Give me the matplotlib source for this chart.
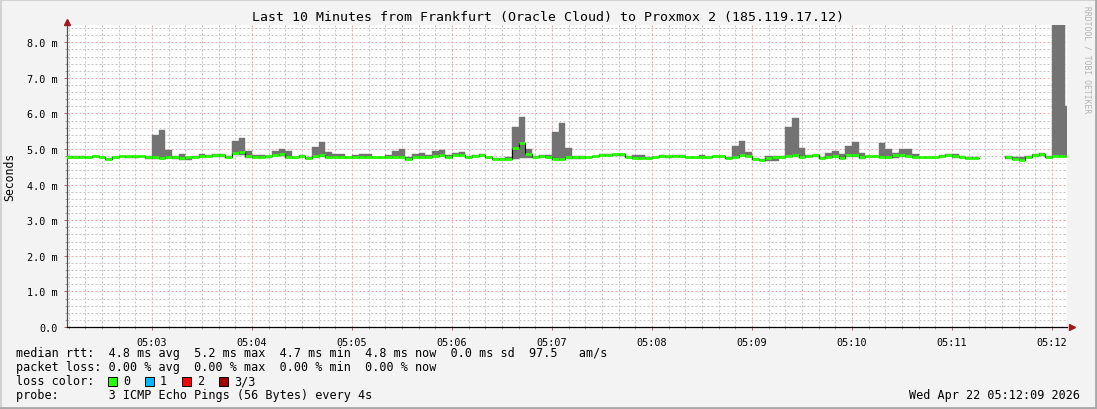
"""
Smokeping style latency graph (RRDtool look): last 10 minutes,
Frankfurt (Oracle Cloud) -> Proxmox 2.
"""

import matplotlib.pyplot as plt
import numpy as np
from matplotlib.lines import Line2D
from matplotlib.patches import Rectangle

# Data
# -----------------------------------------------------------------------------

# 4 s steps, start of first step = 05:02:08 (seconds after 05:00:00)
step_start = 128
step_len = 4

# median rtt per step [ms], NaN = no data
median = [
    4.78, 4.79, 4.79, 4.78, 4.80, 4.77, 4.73, 4.77, 4.80, 4.80,
    4.80, 4.80, 4.77, 4.77, 4.76, 4.78, 4.78, 4.75, 4.77, 4.79,
    4.81, 4.81, 4.83, 4.83, 4.78, 4.89, 4.91, 4.80, 4.78, 4.78,
    4.80, 4.84, 4.87, 4.78, 4.78, 4.80, 4.75, 4.80, 4.83, 4.77,
    4.77, 4.77, 4.77, 4.78, 4.78, 4.78, 4.77, 4.77, 4.77, 4.77,
    4.77, 4.73, 4.77, 4.77, 4.78, 4.80, 4.84, 4.77, 4.84, 4.84,
    4.78, 4.81, 4.84, 4.77, 4.73, 4.73, 4.73, 5.04, 5.16, 4.86,
    4.79, 4.81, 4.77, 4.72, 4.72, 4.77, 4.77, 4.77, 4.77, 4.80,
    4.84, 4.84, 4.86, 4.86, 4.77, 4.76, 4.76, 4.74, 4.77, 4.81,
    4.80, 4.80, 4.80, 4.77, 4.77, 4.78, 4.77, 4.80, 4.80, 4.74,
    4.78, 4.84, 4.80, 4.72, 4.68, 4.76, 4.77, 4.78, 4.80, 4.82,
    4.77, 4.80, 4.82, 4.74, 4.77, 4.80, 4.76, 4.83, 4.83, 4.77,
    4.80, 4.80, 4.77, 4.78, 4.84, 4.82, 4.81, 4.79, 4.78, 4.77,
    4.77, 4.81, 4.84, 4.81, 4.79, 4.75, 4.75, np.nan, np.nan, np.nan,
    np.nan, 4.77, 4.73, 4.70, 4.79, 4.82, 4.85, 4.77, 4.81, 4.81,
    4.81,
]

# smoke: lowest and highest ping per step [ms]
ping_lo = [
    4.76, 4.77, 4.77, 4.75, 4.78, 4.74, 4.71, 4.75, 4.78, 4.75,
    4.75, 4.78, 4.73, 4.73, 4.73, 4.75, 4.71, 4.69, 4.70, 4.77,
    4.78, 4.79, 4.77, 4.77, 4.76, 4.82, 4.83, 4.75, 4.75, 4.76,
    4.76, 4.81, 4.81, 4.74, 4.74, 4.78, 4.71, 4.76, 4.79, 4.75,
    4.75, 4.75, 4.75, 4.76, 4.76, 4.76, 4.75, 4.75, 4.75, 4.75,
    4.75, 4.70, 4.75, 4.75, 4.76, 4.77, 4.80, 4.75, 4.80, 4.80,
    4.74, 4.78, 4.80, 4.74, 4.71, 4.71, 4.71, 4.73, 4.75, 4.75,
    4.77, 4.77, 4.75, 4.69, 4.69, 4.71, 4.71, 4.71, 4.75, 4.78,
    4.81, 4.81, 4.81, 4.81, 4.75, 4.73, 4.73, 4.72, 4.75, 4.79,
    4.75, 4.78, 4.78, 4.75, 4.75, 4.76, 4.75, 4.78, 4.78, 4.72,
    4.75, 4.80, 4.77, 4.69, 4.66, 4.66, 4.66, 4.76, 4.77, 4.79,
    4.74, 4.78, 4.79, 4.71, 4.75, 4.77, 4.71, 4.79, 4.79, 4.71,
    4.78, 4.78, 4.75, 4.75, 4.74, 4.78, 4.78, 4.75, 4.74, 4.74,
    4.74, 4.79, 4.81, 4.75, 4.75, 4.72, 4.72, np.nan, np.nan, np.nan,
    np.nan, 4.73, 4.72, 4.68, 4.77, 4.79, 4.80, 4.75, 4.77, 4.77,
    4.77,
]

ping_hi = [
    4.81, 4.80, 4.80, 4.79, 4.81, 4.79, 4.76, 4.79, 4.81, 4.81,
    4.81, 4.81, 4.81, 5.39, 5.55, 4.97, 4.80, 4.85, 4.79, 4.81,
    4.85, 4.82, 4.85, 4.85, 4.80, 5.22, 5.32, 4.94, 4.84, 4.84,
    4.81, 4.94, 4.99, 4.94, 4.79, 4.82, 4.78, 5.06, 5.19, 4.91,
    4.86, 4.86, 4.79, 4.84, 4.87, 4.87, 4.79, 4.79, 4.82, 4.94,
    4.99, 4.78, 4.87, 4.90, 4.82, 4.94, 4.98, 4.84, 4.88, 4.91,
    4.80, 4.84, 4.87, 4.79, 4.75, 4.75, 4.78, 5.61, 5.89, 5.00,
    4.81, 4.82, 4.83, 5.49, 5.72, 5.04, 4.80, 4.80, 4.79, 4.81,
    4.85, 4.87, 4.87, 4.87, 4.80, 4.82, 4.82, 4.78, 4.79, 4.82,
    4.81, 4.84, 4.84, 4.79, 4.79, 4.82, 4.79, 4.81, 4.81, 4.78,
    5.10, 5.22, 4.92, 4.75, 4.72, 4.80, 4.81, 4.81, 5.61, 5.86,
    5.04, 4.83, 4.83, 4.77, 4.88, 4.94, 4.87, 5.10, 5.19, 4.88,
    4.81, 4.81, 5.16, 4.99, 4.88, 4.99, 5.01, 4.85, 4.79, 4.79,
    4.78, 4.83, 4.86, 4.86, 4.80, 4.79, 4.79, np.nan, np.nan, np.nan,
    np.nan, 4.81, 4.79, 4.79, 4.81, 4.87, 4.90, 4.81, 8.60, 8.60,
    6.22,
]

x_range = (129, 729)  # 05:02:09 .. 05:12:09
major_ticks = [180, 240, 300, 360, 420, 480, 540, 600, 660, 720]
major_labels = ['05:03', '05:04', '05:05', '05:06', '05:07',
                '05:08', '05:09', '05:10', '05:11', '05:12']
y_ticks = [0, 1, 2, 3, 4, 5, 6, 7, 8]
y_labels = ['0.0', '1.0 m', '2.0 m', '3.0 m', '4.0 m',
            '5.0 m', '6.0 m', '7.0 m', '8.0 m']

title = 'Last 10 Minutes from Frankfurt (Oracle Cloud) to Proxmox 2 (185.119.17.12)'
legend_rows = [
    'median rtt:  4.8 ms avg  5.2 ms max  4.7 ms min  4.8 ms now  0.0 ms sd  97.5   am/s',
    'packet loss: 0.00 % avg  0.00 % max  0.00 % min  0.00 % now',
    'loss color:',
    'probe:       3 ICMP Echo Pings (56 Bytes) every 4s',
]
loss_colors = ['#26ff00', '#00b8ff', '#ff0000', '#a00000']
loss_labels = ['0', '1', '2', '3/3']
stamp = 'Wed Apr 22 05:12:09 2026'

# Plot
# -----------------------------------------------------------------------------

W, H = 1097, 410
MONO = 'DejaVu Sans Mono'
BG = '#f3f3f3'


def fx(px):
    return px / W


def fy(py):
    return 1 - py / H


fig = plt.figure(figsize=(W / 100, H / 100), dpi=100, facecolor=BG)
ax = fig.add_axes([fx(67), fy(328), fx(1067) - fx(67), fy(26.25) - fy(328)])
ax.set_facecolor('white')
ax.set_xlim(*x_range)
ax.set_ylim(0, 8.48)

# grid: minor gray every 10 s / 0.2 ms, major red every minute / 1 ms
dots = (0, (2, 2))
for t in range(130, 730, 10):
    if t % 60:
        ax.axvline(t, color='#c4c4c4', lw=0.72, ls=dots, zorder=0.5)
for i in range(1, 43):
    v = i * 0.2
    if i % 5:
        ax.axhline(v, color='#c4c4c4', lw=0.72, ls=dots, zorder=0.5)
for t in major_ticks:
    ax.axvline(t, color='#f0a8a8', lw=0.72, ls=dots, zorder=0.6)
for v in y_ticks[1:]:
    ax.axhline(v, color='#f0a8a8', lw=0.72, ls=dots, zorder=0.6)

med = np.array(median)
lo = np.array(ping_lo)
hi = np.array(ping_hi)
edges = step_start + step_len * np.arange(len(med) + 1)

# smoke
ax.bar(edges[:-1], hi - lo, bottom=lo, width=step_len, align='edge',
       color='#737373', edgecolor='#737373', linewidth=0.3, zorder=2)

# median: thin black step line with green horizontal segments on top
ax.step(edges, np.append(med, med[-1]), where='post', color='black', lw=0.8, zorder=3)
ax.hlines(med, edges[:-1], edges[1:], color=loss_colors[0], lw=2.0, zorder=4)

# axes
for s in ('top', 'right'):
    ax.spines[s].set_visible(False)
ax.spines['left'].set_color('#505050')
ax.spines['bottom'].set_color('black')
ax.spines['left'].set_linewidth(0.9)
ax.spines['bottom'].set_linewidth(0.9)

ax.set_xticks(major_ticks, major_labels)
ax.set_xticks(range(130, 730, 10), minor=True)
ax.set_yticks(y_ticks, y_labels)
ax.set_yticks(np.arange(0.2, 8.4, 0.2), minor=True)
ax.tick_params(axis='both', which='major', length=2.5, width=0.7, color='#c06060',
               labelsize=7.3, pad=4)
ax.tick_params(axis='both', which='minor', length=1.5, width=0.7, color='#a0a0a0')
ax.tick_params(axis='x', which='major', pad=5)
for lab in ax.get_xticklabels() + ax.get_yticklabels():
    lab.set_fontfamily(MONO)

# axis arrows
ax.plot([1.005], [0], marker='>', ms=4, color='#a01818', transform=ax.transAxes,
        clip_on=False, zorder=5)
ax.plot([0], [1.012], marker='^', ms=4, color='#a01818', transform=ax.transAxes,
        clip_on=False, zorder=5)

# texts
fig.text(fx(548), fy(18), title, family=MONO, fontsize=9.5, ha='center', va='center')
fig.text(fx(10), fy(177), 'Seconds', family=MONO, fontsize=8.3, rotation=90,
         ha='center', va='center')
fig.text(fx(1087), fy(60), 'RRDTOOL / TOBI OETIKER', family=MONO, fontsize=5.8,
         rotation=270, ha='center', va='center', color='#b4b4b4')

for row, y in zip(legend_rows, [354, 368, 382, 396]):
    fig.text(fx(16), fy(y), row, family=MONO, fontsize=8.45, ha='left', va='center')

for i, (c, lab) in enumerate(zip(loss_colors, loss_labels)):
    x0 = 108 + 37 * i
    fig.add_artist(Rectangle((fx(x0), fy(386.5)), fx(9), 9 / H, facecolor=c,
                             edgecolor='black', linewidth=0.72,
                             transform=fig.transFigure))
    fig.text(fx(x0 + 15), fy(382), lab, family=MONO, fontsize=8.45,
             ha='left', va='center')

fig.text(fx(1080), fy(396), stamp, family=MONO, fontsize=8.45, ha='right', va='center')

# image border
fig.add_artist(Line2D([0, 1], [fy(0.5), fy(0.5)], color='#d2d2d2', lw=1.5,
                      transform=fig.transFigure))
fig.add_artist(Line2D([fx(0.5), fx(0.5)], [0, 1], color='#d2d2d2', lw=1.5,
                      transform=fig.transFigure))
fig.add_artist(Line2D([0, 1], [fy(409), fy(409)], color='#a8a8a8', lw=2,
                      transform=fig.transFigure))
fig.add_artist(Line2D([fx(1096), fx(1096)], [0, 1], color='#a8a8a8', lw=2,
                      transform=fig.transFigure))

fig.savefig('out.png', dpi=100, facecolor=BG)
